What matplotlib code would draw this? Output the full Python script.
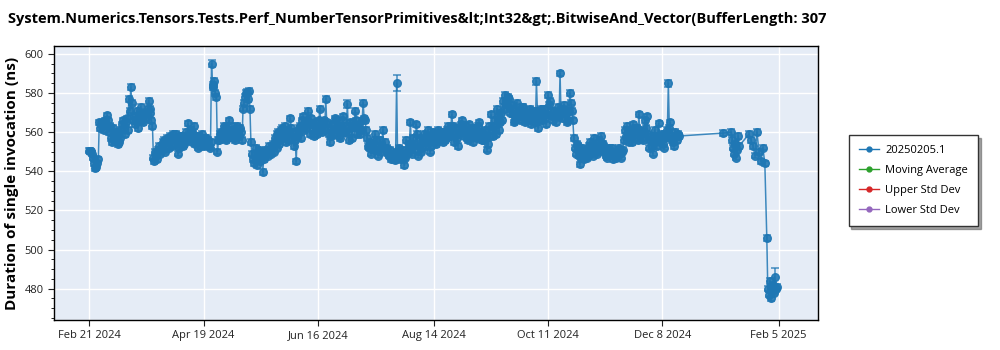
import numpy as np
import pandas as pd
import matplotlib
matplotlib.use("Agg")
import matplotlib.pyplot as plt
from matplotlib.lines import Line2D

plt.rcParams['font.family'] = ['Open Sans', 'DejaVu Sans']

title = "System.Numerics.Tensors.Tests.Perf_NumberTensorPrimitives&lt;Int32&gt;.BitwiseAnd_Vector(BufferLength: 307"
legend_names = ["20250205.1", "Moving Average", "Upper Std Dev", "Lower Std Dev"]
legend_colors = ["#1f77b4", "#2ca02c", "#d62728", "#9467bd"]

start_date = "2024-02-21"

# morning runs, Feb 21 2024 .. Dec 16 2024 (days 0..299)
run_a = [
    550.5, 550.2, 547, 541.5, 544, 565, 564, 563, 566, 568.5,
    560, 557, 562, 556, 558, 555, 561, 566, 559, 567,
    577, 583, 566, 564, 571, 567, 573, 565, 569, 570,
    576, 572, 563, 545, 548, 551, 549, 553, 556, 552,
    555, 558, 553, 557, 559, 549, 556, 558, 554, 560,
    564.5, 557, 555, 563, 558, 552, 556, 559, 553, 557,
    556, 552, 595, 584, 580, 550, 556, 560, 558, 562,
    557, 566, 559, 561, 556, 563, 558, 560, 572, 578,
    580.5, 581, 555, 546, 549, 543, 551, 547, 539.5, 548,
    551, 553, 549, 554, 557, 552, 560, 556, 562, 558,
    555, 561, 567, 557, 553, 545, 559, 563, 566, 561,
    562, 571, 559, 564, 558, 561, 563, 572, 560, 566,
    577, 562, 555, 564, 559, 566, 561, 557, 563, 568,
    560, 574.5, 556, 562, 565, 571, 559, 564, 561, 575,
    566, 557, 552, 549, 554, 559, 551, 553, 550, 561,
    555, 552, 548, 546, 549, 545.5, 585, 552, 548, 547,
    543, 556, 551, 565, 549, 554, 564, 548, 557, 552,
    559, 553, 561, 550, 556, 558, 554, 561, 557, 559,
    560, 557, 563, 558, 569, 555, 562, 553, 560, 566,
    558, 561, 556, 564, 559, 555, 562, 557, 565, 560,
    556, 561, 551, 563, 569, 558, 566, 572, 561, 570,
    576, 579, 574, 577, 572, 569, 566, 575, 570, 568,
    573, 565, 570, 567, 564, 571, 568, 586, 562, 569,
    566, 572, 564, 579, 576, 568, 571, 565, 573, 590,
    567, 574, 569, 566, 580, 571, 557, 549, 553, 543.5,
    552, 546, 550, 548, 555, 551, 557, 553, 549, 556,
    558, 554, 551, 547, 552, 549, 546, 550, 548, 552,
    547, 551, 561, 563, 555, 559, 564, 557, 562, 569,
    560, 556, 566, 568, 552, 558, 549, 561, 553, 564.5,
    555, 559, 552, 558, 585, 565, 556, 553, 558, 559,
]

# evening runs, same days (+12h)
run_b = [
    550.3, 549, 544, 542, 546, 562, 565, 561, 564, 566,
    563, 555, 559, 560, 554, 557, 564, 562, 565, 561,
    571, 575, 568, 566, 562, 569, 566, 570, 567, 572,
    570, 566, 547, 550, 546, 553, 551, 555, 550, 557,
    552, 556, 559, 554, 556, 552, 558, 553, 557, 556,
    558, 561, 559, 554, 556, 558, 553, 555, 557, 554,
    553, 555, 583, 586, 578, 556, 559, 557, 563, 556,
    561, 558, 563, 557, 560, 559, 562, 556, 575, 580,
    577, 572, 549, 544, 552, 548, 545, 550, 546, 551,
    548, 551, 552, 550, 555, 559, 554, 561, 557, 563,
    559, 556, 562, 560, 556, 558, 562, 557, 568, 564,
    566, 564, 567, 561, 565, 559, 566, 562, 564, 561,
    565, 559, 558, 561, 567, 563, 558, 562, 566, 560,
    563, 560, 565, 557, 563, 566, 562, 559, 566, 567,
    561, 553, 555, 552, 551, 556, 548, 556, 553, 552,
    551, 549, 551, 548, 546, 550, 547, 546, 551, 549,
    547, 549, 554, 553, 557, 551, 559, 553, 550, 556,
    555, 558, 557, 553, 560, 555, 559, 556, 560, 555,
    556, 561, 558, 562, 563, 559, 557, 559, 564, 562,
    563, 557, 561, 558, 562, 560, 558, 563, 559, 556,
    559, 557, 554, 558, 561, 563, 559, 568, 565, 566,
    572, 575, 578, 570, 574, 565, 569, 571, 566, 573,
    569, 568, 566, 572, 569, 567, 565, 571, 566, 572,
    570, 567, 569, 574, 571, 566, 568, 570, 568, 569,
    572, 570, 565, 571, 575, 566, 552, 554, 548, 547,
    549, 551, 547, 553, 550, 548, 552, 550, 553, 551,
    554, 550, 548, 551, 549, 552, 548, 547, 551, 549,
    550, 556, 558, 560, 561, 555, 560, 562, 556, 561,
    557, 560, 562, 559, 556, 553, 555, 557, 558, 556,
    558, 554, 557, 561, 562, 558, 555, 560, 556, 558,
]

# sparse tail (day offset from start_date, value)
tail_days = [322, 326, 326.5, 327, 327.5, 328, 328.5, 329, 329.5, 330,
             335, 336, 337, 338, 339, 340, 341, 342, 343,
             344, 344.5, 345, 345.5, 346, 346.5, 347, 347.5, 348, 348.5, 349]
tail_vals = [559.5, 560, 556, 552, 549, 554, 547, 551, 558, 553,
             559, 556, 553, 548, 560, 550, 545, 552, 544,
             506, 480, 477, 484, 475, 479, 482, 478, 486, 480, 481]

err_default = 1.4
err_special = {62: 2.0, 156: 4.0, 227: 1.8, 294: 1.8, 348: 4.5, 131: 2.0}

tick_dates = ["2024-02-21", "2024-04-19", "2024-06-16", "2024-08-14",
              "2024-10-11", "2024-12-08", "2025-02-05"]

# ---- build series in time order
t0 = pd.Timestamp(start_date)
days, vals = [], []
for i in range(len(run_a)):
    days += [i, i + 0.5]
    vals += [run_a[i], run_b[i]]
days += tail_days
vals += tail_vals
dates = [t0 + pd.Timedelta(days=d) for d in days]
errs = [err_special.get(d, err_default) for d in days]

fig = plt.figure(figsize=(10, 3.5), dpi=100)
ax = fig.add_axes([0.054, 0.0857, 0.764, 0.783])
ax.set_facecolor("#E5ECF6")

c = "#1f77b4"
ax.errorbar(dates, vals, yerr=errs, fmt="none", ecolor=c, elinewidth=1.2,
            capsize=3, capthick=1.2, alpha=0.75, zorder=2)
ax.plot(dates, vals, color=c, lw=1.1, alpha=0.85, zorder=3)
ax.plot(dates, vals, "o", color=c, ms=5.5, mec=c, alpha=0.9, zorder=4)

ax.set_ylim(464, 604)
ax.set_xlim(pd.Timestamp("2024-02-03"), pd.Timestamp("2025-02-25"))
ax.set_yticks([480, 500, 520, 540, 560, 580, 600])
ax.yaxis.set_minor_locator(matplotlib.ticker.MultipleLocator(5))
ticks = [pd.Timestamp(t) for t in tick_dates]
ax.set_xticks(ticks)
ax.set_xticklabels([f"{t:%b} {t.day} {t.year}" for t in ticks])
ax.grid(True, color="white", lw=1.0)
ax.set_axisbelow(True)
ax.tick_params(labelsize=8, length=4, colors="#222222")
ax.tick_params(which="minor", length=2)
for s in ax.spines.values():
    s.set_color("black")
    s.set_linewidth(1.0)

ax.set_ylabel("Duration of single invocation (ns)", fontsize=11, fontweight="bold")
fig.text(0.008, 0.945, title, fontsize=10.5, fontweight="bold", ha="left", va="center")

handles = [Line2D([], [], color=col, marker="o", ms=3.5, lw=1.0) for col in legend_colors]
leg = fig.legend(handles, legend_names, loc="upper left", bbox_to_anchor=(0.843, 0.63),
                 fontsize=8, frameon=True, fancybox=False, shadow=True,
                 edgecolor="#333333", handlelength=1.8, handletextpad=0.6,
                 borderpad=0.9, labelspacing=0.8)

fig.savefig("out.png", dpi=100)
